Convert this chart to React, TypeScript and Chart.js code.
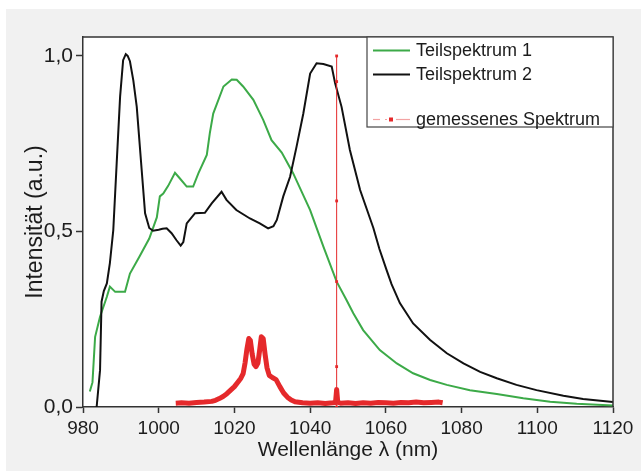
import React, { useEffect, useRef } from 'react';
import { Chart, registerables } from 'chart.js';

Chart.register(...registerables);

// ---- Data ----
const xTicks = [980, 1000, 1020, 1040, 1060, 1080, 1100, 1120];
const yTicks = [0, 0.5, 1.0];

const legendLabels = ['Teilspektrum 1', 'Teilspektrum 2', 'gemessenes Spektrum'];

// Teilspektrum 1 (green)
const greenX = [981.8, 982.5, 983.2, 984.5, 986.3, 987.1, 988.5, 991.1, 992.4, 995, 997.5, 999.5, 1000.3, 1001.2, 1002.5, 1004.3, 1005.6, 1007.4, 1009.1, 1010.5, 1012.7, 1013.5, 1014.4, 1017.1, 1019.3, 1020.6, 1022.3, 1025, 1027.6, 1029.8, 1032.5, 1035.5, 1040, 1043.5, 1047, 1049.6, 1051.4, 1054, 1058.4, 1062.9, 1067.2, 1071.7, 1076.1, 1082.2, 1089.3, 1096.3, 1103.4, 1110.4, 1120];
const greenY = [0.044, 0.07, 0.2, 0.257, 0.314, 0.343, 0.328, 0.328, 0.38, 0.43, 0.48, 0.54, 0.6, 0.608, 0.63, 0.667, 0.651, 0.628, 0.628, 0.666, 0.718, 0.78, 0.836, 0.913, 0.933, 0.932, 0.913, 0.875, 0.818, 0.76, 0.725, 0.666, 0.561, 0.457, 0.357, 0.305, 0.267, 0.219, 0.162, 0.124, 0.096, 0.077, 0.063, 0.048, 0.037, 0.025, 0.015, 0.009, 0.004];

// Teilspektrum 2 (black)
const blackX = [983.6, 984.5, 984.9, 985.5, 986.3, 987.1, 988, 988.9, 989.8, 990.6, 991.3, 991.8, 992.4, 993.3, 994.2, 995.5, 996.4, 997.5, 998.5, 1000, 1001, 1002.1, 1003.4, 1004.7, 1005.8, 1006.5, 1007.4, 1009.6, 1012.2, 1014, 1016.6, 1017.9, 1020.5, 1024.1, 1026.7, 1028.9, 1030.3, 1031.2, 1032.9, 1034.7, 1036.4, 1038.2, 1040, 1041.7, 1043.5, 1045.7, 1046.6, 1048.3, 1050.5, 1053.2, 1056.7, 1058.3, 1060.2, 1061.5, 1063.7, 1067.2, 1071.7, 1076.1, 1080.5, 1084.9, 1089.3, 1094.5, 1099.8, 1106.9, 1112.1, 1120];
const blackY = [0, 0.105, 0.3, 0.33, 0.352, 0.41, 0.504, 0.695, 0.884, 0.988, 1.005, 1.0, 0.985, 0.93, 0.855, 0.675, 0.552, 0.51, 0.502, 0.505, 0.508, 0.509, 0.495, 0.475, 0.46, 0.47, 0.523, 0.552, 0.553, 0.58, 0.613, 0.59, 0.561, 0.537, 0.523, 0.509, 0.515, 0.533, 0.6, 0.656, 0.741, 0.836, 0.95, 0.979, 0.977, 0.97, 0.922, 0.855, 0.732, 0.618, 0.51, 0.45, 0.39, 0.35, 0.296, 0.238, 0.191, 0.153, 0.124, 0.1, 0.082, 0.063, 0.048, 0.032, 0.023, 0.014];

// gemessenes Spektrum (thick red)
const redX = [1004.5, 1006, 1008, 1010, 1012, 1014, 1015, 1016, 1017, 1018, 1019, 1020, 1021, 1021.7, 1022.3, 1022.8, 1023.3, 1023.8, 1024.2, 1024.7, 1025.2, 1025.7, 1026.2, 1026.7, 1027.1, 1027.6, 1028.1, 1028.6, 1029.2, 1030, 1031, 1032, 1033, 1034, 1035, 1036, 1038, 1040, 1042, 1044, 1046, 1046.7, 1047, 1047.3, 1048, 1050, 1052, 1054, 1056, 1058, 1060, 1062, 1064, 1066, 1068, 1070, 1072, 1074, 1075];
const redY = [0.011, 0.012, 0.011, 0.013, 0.014, 0.016, 0.019, 0.024, 0.030, 0.038, 0.048, 0.058, 0.072, 0.082, 0.095, 0.125, 0.165, 0.195, 0.190, 0.150, 0.122, 0.115, 0.125, 0.165, 0.200, 0.195, 0.150, 0.112, 0.090, 0.084, 0.078, 0.058, 0.040, 0.028, 0.020, 0.015, 0.012, 0.011, 0.012, 0.010, 0.012, 0.013, 0.050, 0.013, 0.011, 0.012, 0.010, 0.012, 0.011, 0.013, 0.012, 0.011, 0.013, 0.012, 0.014, 0.012, 0.013, 0.014, 0.012];

// vertical marker line (thin red with square symbols)
const markerLineX = 1047;
const markerLineY = [0, 0.048, 0.115, 0.357, 0.587, 0.927, 1.0];

const GREEN = '#3caa48';
const BLACK = '#111111';
const RED = '#e5292b';
const LIGHT_RED = '#f3a3a3';
const FONT = "'Liberation Sans', Arial, sans-serif";

const zip = (xs: number[], ys: number[]) => xs.map((x, i) => ({ x, y: ys[i] }));

const bgPlugin = {
  id: 'bg',
  beforeDraw(chart: any) {
    const { ctx, width, height, chartArea } = chart;
    ctx.save();
    ctx.fillStyle = '#ffffff';
    ctx.fillRect(0, 0, width, height);
    ctx.fillStyle = '#f1f1f1';
    ctx.fillRect(6, 9, width - 6, height - 9);
    ctx.fillStyle = '#ffffff';
    ctx.fillRect(chartArea.left, chartArea.top, chartArea.right - chartArea.left, chartArea.bottom - chartArea.top);
    ctx.restore();
  },
};

const framePlugin = {
  id: 'frame',
  afterDraw(chart: any) {
    const { ctx, chartArea } = chart;
    ctx.save();
    ctx.strokeStyle = '#333';
    ctx.lineWidth = 1.5;
    ctx.beginPath();
    ctx.moveTo(chartArea.left, chartArea.top);
    ctx.lineTo(chartArea.right, chartArea.top);
    ctx.lineTo(chartArea.right, chartArea.bottom);
    ctx.stroke();
    ctx.restore();
  },
};

const legendPlugin = {
  id: 'customLegend',
  afterDraw(chart: any) {
    const { ctx, chartArea } = chart;
    const right = chartArea.right;
    const top = chartArea.top;
    const left = 367;
    const bottom = 127;
    ctx.save();
    ctx.fillStyle = '#ffffff';
    ctx.fillRect(left, top, right - left, bottom - top);
    ctx.strokeStyle = '#444';
    ctx.lineWidth = 1.2;
    ctx.strokeRect(left, top, right - left, bottom - top);

    const lx0 = 373, lx1 = 410, tx = 416;
    const rows = [50.5, 74.5, 119.5];
    ctx.font = `18px ${FONT}`;
    ctx.textBaseline = 'middle';
    ctx.textAlign = 'left';

    ctx.strokeStyle = GREEN;
    ctx.lineWidth = 2;
    ctx.beginPath(); ctx.moveTo(lx0, rows[0]); ctx.lineTo(lx1, rows[0]); ctx.stroke();
    ctx.strokeStyle = BLACK;
    ctx.beginPath(); ctx.moveTo(lx0, rows[1]); ctx.lineTo(lx1, rows[1]); ctx.stroke();
    ctx.strokeStyle = LIGHT_RED;
    ctx.lineWidth = 1.2;
    ctx.beginPath(); ctx.moveTo(lx0, rows[2]); ctx.lineTo(lx0 + 7, rows[2]); ctx.stroke();
    ctx.beginPath(); ctx.moveTo(lx0 + 12, rows[2]); ctx.lineTo(lx0 + 14, rows[2]); ctx.stroke();
    ctx.beginPath(); ctx.moveTo(lx0 + 23, rows[2]); ctx.lineTo(lx1, rows[2]); ctx.stroke();
    ctx.fillStyle = RED;
    ctx.fillRect(389, rows[2] - 2, 4, 4);

    ctx.fillStyle = '#1c1c1c';
    legendLabels.forEach((t, i) => ctx.fillText(t, tx, rows[i] + 1));
    ctx.restore();
  },
};

export default function App() {
  const ref = useRef<HTMLCanvasElement>(null);

  useEffect(() => {
    const canvas = ref.current;
    if (!canvas) return;
    const chart = new Chart(canvas, {
      type: 'line',
      data: {
        datasets: [
          {
            label: legendLabels[2],
            data: markerLineY.map((y) => ({ x: markerLineX, y })),
            borderColor: RED,
            borderWidth: 1,
            pointStyle: 'rect',
            pointRadius: 2,
            pointBackgroundColor: RED,
            pointBorderColor: RED,
            pointBorderWidth: 0,
          },
          {
            label: 'measured',
            data: zip(redX, redY),
            borderColor: RED,
            borderWidth: 5,
            pointRadius: 0,
            borderJoinStyle: 'round',
          },
          {
            label: legendLabels[1],
            data: zip(blackX, blackY),
            borderColor: BLACK,
            borderWidth: 2,
            pointRadius: 0,
          },
          {
            label: legendLabels[0],
            data: zip(greenX, greenY),
            borderColor: GREEN,
            borderWidth: 2,
            pointRadius: 0,
          },
        ],
      },
      options: {
        responsive: false,
        animation: false,
        events: [],
        elements: { line: { tension: 0, fill: false } },
        layout: { padding: { top: 37, right: 28, bottom: 0, left: 0 } },
        plugins: {
          legend: { display: false },
          tooltip: { enabled: false },
        },
        scales: {
          x: {
            type: 'linear',
            min: 980,
            max: 1120,
            afterFit: (s: any) => { s.height = 64; },
            afterBuildTicks: (s: any) => { s.ticks = xTicks.map((v) => ({ value: v })); },
            ticks: {
              callback: (v: any) => String(v),
              font: { size: 19, family: FONT },
              color: '#1c1c1c',
              padding: 4,
              maxRotation: 0,
              autoSkip: false,
            },
            grid: { drawOnChartArea: false, drawTicks: true, tickLength: 6, tickColor: '#333', tickWidth: 1.5 },
            border: { display: true, color: '#333', width: 1.5 },
            title: {
              display: true,
              text: 'Wellenlänge λ (nm)',
              font: { size: 21, family: FONT },
              color: '#1c1c1c',
              padding: { top: 0, bottom: 8 },
            },
          },
          y: {
            type: 'linear',
            min: 0,
            max: 1.054,
            afterFit: (s: any) => { s.width = 83; },
            afterBuildTicks: (s: any) => { s.ticks = yTicks.map((v) => ({ value: v })); },
            ticks: {
              callback: (v: any) => Number(v).toFixed(1).replace('.', ','),
              font: { size: 21, family: FONT },
              color: '#1c1c1c',
              padding: 3,
            },
            grid: { drawOnChartArea: false, drawTicks: true, tickLength: 7, tickColor: '#333', tickWidth: 1.5 },
            border: { display: true, color: '#333', width: 1.5 },
            title: {
              display: true,
              text: 'Intensität (a.u.)',
              font: { size: 23, family: FONT },
              color: '#1c1c1c',
              padding: { top: 22, bottom: 0 },
            },
          },
        },
      },
      plugins: [bgPlugin, framePlugin, legendPlugin],
    } as any);
    return () => chart.destroy();
  }, []);

  return (
    <div style={{ position: 'fixed', left: 0, top: 0, width: 641, height: 471 }}>
      <canvas ref={ref} width={641} height={471} style={{ display: 'block', width: 641, height: 471 }} />
    </div>
  );
}
